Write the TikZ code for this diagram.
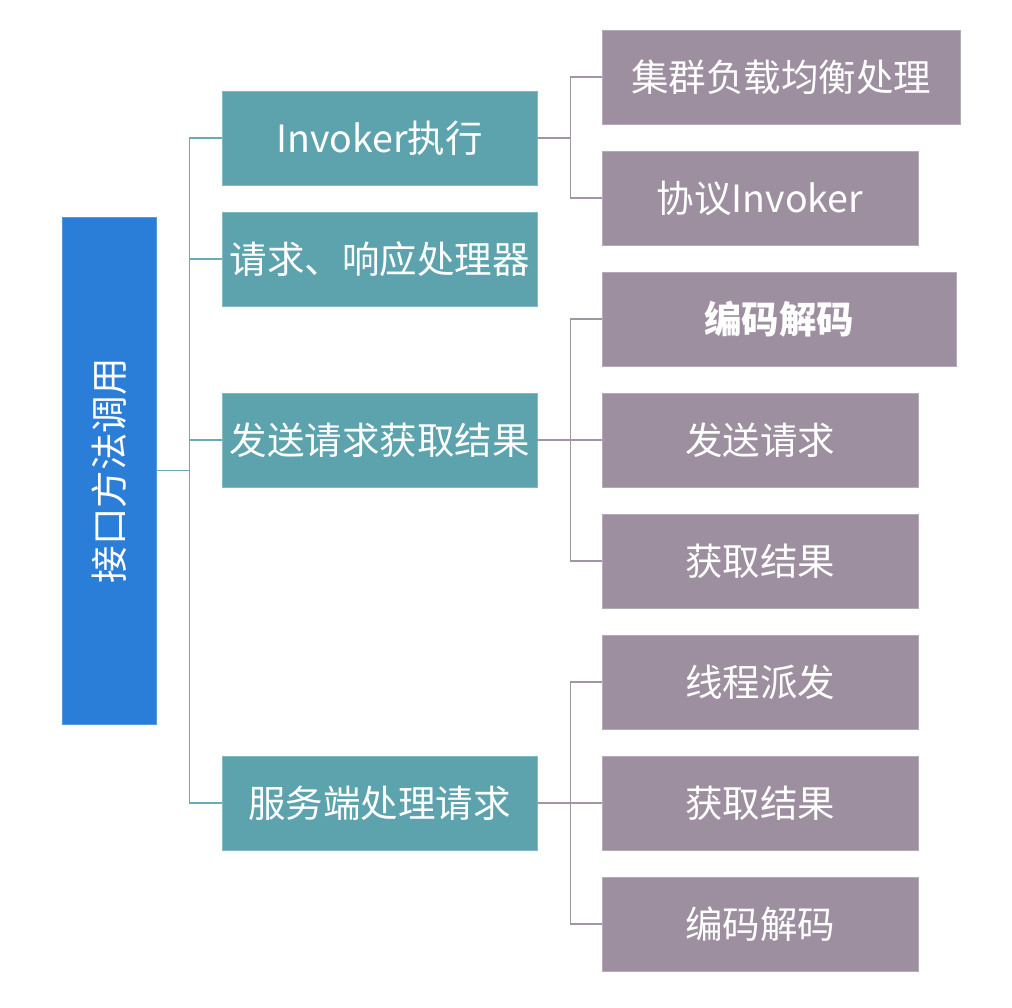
\documentclass[tikz,border=0pt]{standalone}
\usepackage{fontspec}
\setmainfont{Noto Sans CJK SC}
\definecolor{rootblue}{HTML}{2B7ED7}
\definecolor{tealbox}{HTML}{5CA3AE}
\definecolor{mauvebox}{HTML}{9D8FA0}
\definecolor{tealline}{HTML}{6AACB6}
\definecolor{mauveline}{HTML}{A296A6}
\begin{document}
\begin{tikzpicture}[x=1pt,y=-1pt,
  basebox/.style={rectangle, inner sep=0pt, text=white,
    font=\fontsize{37.5}{42}\selectfont, line width=0.8pt},
  rootbox/.style={basebox, fill=rootblue, draw=rootblue!80!white,
    minimum width=507pt, minimum height=94pt, rotate=90},
  midbox/.style={basebox, fill=tealbox, draw=tealbox!75!white,
    minimum width=315pt, minimum height=94pt},
  leafbox/.style={basebox, fill=mauvebox, draw=mauvebox!75!white,
    minimum width=316pt, minimum height=94pt},
  tline/.style={draw=tealline, line width=1.4pt},
  mline/.style={draw=mauveline, line width=1.4pt}
]
\useasboundingbox (0,0) rectangle (1012,1007);

% root
\node[rootbox] (root) at (109,470.5) {接口方法调用};

% second level
\node[midbox] (t1) at (379.5,138) {Invoker执行};
\node[midbox] (t2) at (379.5,259) {请求、响应处理器};
\node[midbox] (t3) at (379.5,440) {发送请求获取结果};
\node[midbox] (t4) at (379.5,803) {服务端处理请求};

% third level
\node[leafbox, minimum width=358pt] (p1) at (781,77) {集群负载均衡处理};
\node[leafbox] (p2) at (760,198) {协议Invoker};
\node[leafbox, minimum width=354pt, font=\fontsize{37.5}{42}\selectfont\bfseries] (p3) at (779,319) {编码解码};
\node[leafbox] (p4) at (760,440) {发送请求};
\node[leafbox] (p5) at (760,561) {获取结果};
\node[leafbox] (p6) at (760,682) {线程派发};
\node[leafbox] (p7) at (760,803) {获取结果};
\node[leafbox] (p8) at (760,924) {编码解码};

% root to second level
\draw[tline] (root.south) -- ++(33,0) coordinate (rj);
\draw[tline] (rj |- t1.west) -- (rj |- t4.west);
\foreach \n in {t1,t2,t3,t4} \draw[tline] (rj |- \n.west) -- (\n.west);

% second level to third level
\draw[mline] (t1.east) -- ++(33,0) coordinate (j1);
\draw[mline] (j1 |- p1.west) -- (j1 |- p2.west);
\foreach \n in {p1,p2} \draw[mline] (j1 |- \n.west) -- (\n.west);

\draw[mline] (t3.east) -- ++(33,0) coordinate (j3);
\draw[mline] (j3 |- p3.west) -- (j3 |- p5.west);
\foreach \n in {p3,p4,p5} \draw[mline] (j3 |- \n.west) -- (\n.west);

\draw[mline] (t4.east) -- ++(33,0) coordinate (j4);
\draw[mline] (j4 |- p6.west) -- (j4 |- p8.west);
\foreach \n in {p6,p7,p8} \draw[mline] (j4 |- \n.west) -- (\n.west);
\end{tikzpicture}
\end{document}
